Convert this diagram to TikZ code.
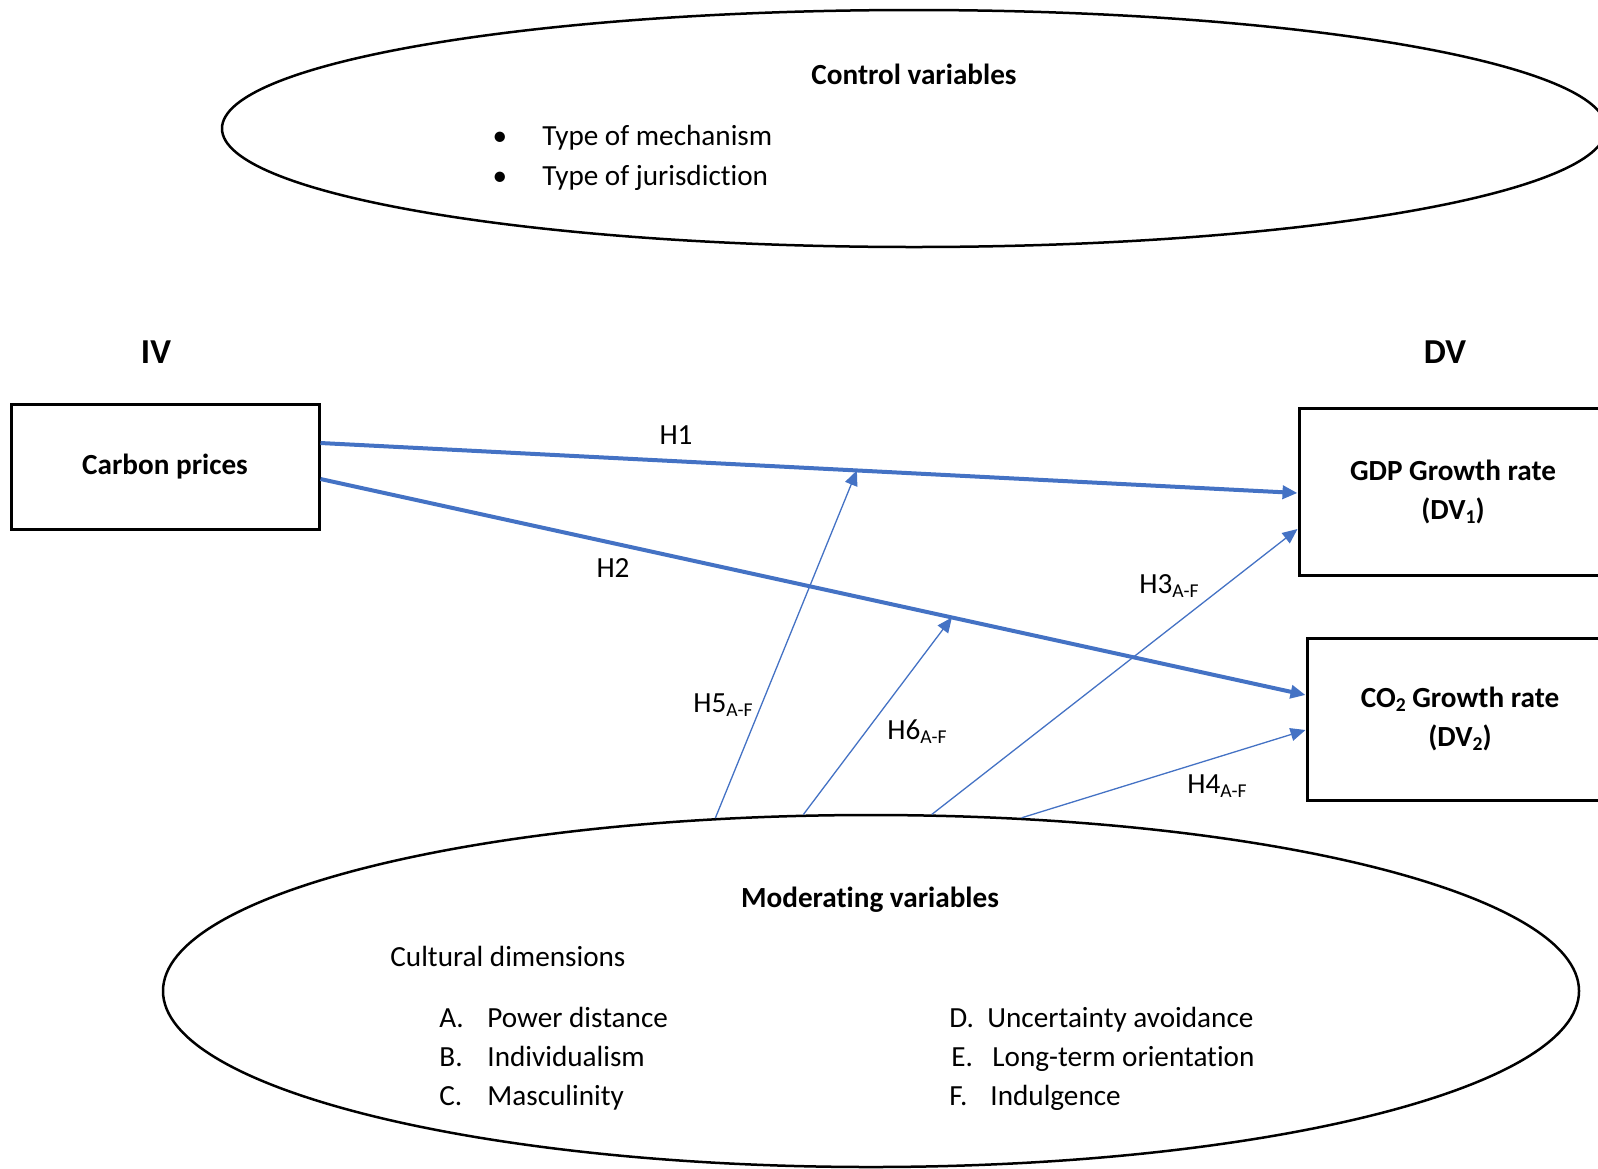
\documentclass[tikz,border=0pt]{standalone}
\usepackage{fontspec}
\setmainfont{Carlito}[Ligatures=NoCommon]
\usetikzlibrary{arrows.meta,calc,shapes.geometric}
\definecolor{hblue}{HTML}{4472C4}
\newcommand\lowsub[1]{\raisebox{-0.3ex}{\fontsize{9.8}{11}\selectfont #1}}
\begin{document}
\begin{tikzpicture}[x=0.5pt,y=-0.5pt,
  every node/.style={font=\fontsize{14.6}{19.5}\selectfont, inner sep=0pt},
  boxnode/.style={draw, line width=1.5pt, align=center, inner sep=0pt,
    font=\fontsize{14.6}{19.5}\selectfont\bfseries},
  oval/.style={draw, ellipse, line width=1.25pt, inner sep=0pt},
  mainarrow/.style={hblue, line width=2pt, -{Triangle[length=7.5pt,width=6.5pt]}},
  modarrow/.style={hblue, line width=0.65pt, -{Triangle[length=7.5pt,width=6.5pt]}},
  lbl/.style={anchor=base west},
  heading/.style={anchor=base, font=\fontsize{17.5}{20}\selectfont\bfseries},
  title/.style={anchor=base, font=\fontsize{14.6}{19.5}\selectfont\bfseries},
]
\useasboundingbox (0,0) rectangle (1598,1168);
\clip (0,0) rectangle (1598,1168);

% ellipses
\node[oval, minimum width=692pt, minimum height=118.5pt] (ctrl) at (914,128.5) {};
\node[oval, minimum width=708pt, minimum height=176pt] (mod) at (871,991) {};

% top ellipse text
\node[title] (ctrlt) at (914,84.5) {Control variables};
\node[anchor=base] (b1) at (500,145) {\textbullet};
\node[anchor=base] (b2) at (500,185.5) {\textbullet};
\node[lbl] (c1) at (542,145) {Type of mechanism};
\node[lbl] (c2) at (542,185.5) {Type of jurisdiction};

% headings
\node[heading] (iv) at (156,363.5) {IV};
\node[heading] (dv) at (1445,363.5) {DV};

% boxes
\node[boxnode, minimum width=154pt, minimum height=62.5pt] (cp) at (165,466.5) {Carbon prices};
\node[boxnode, minimum width=154pt, minimum height=83.5pt] (gdp) at (1453,491.5) {GDP Growth rate\\(DV\lowsub{1})};
\node[boxnode, minimum width=153pt, minimum height=81pt] (co2) at (1460,719) {CO\lowsub{2} Growth rate\\(DV\lowsub{2})};

% main arrows
\draw[mainarrow] ($(cp.east)+(0,-23.5)$) -- coordinate[pos=0.549] (h1m) ($(gdp.west)+(0,1.5)$);
\draw[mainarrow] ($(cp.east)+(0,12.5)$) -- coordinate[pos=0.641] (h2m) ($(co2.west)+(0,-24)$);

% moderating arrows
\draw[modarrow] (mod.132.3) -- (h1m);
\draw[modarrow] (mod.111.5) -- (h2m);
\draw[modarrow] (mod.71.1) -- ($(gdp.west)+(0,37.5)$);
\draw[modarrow] (mod.49.9) -- ($(co2.west)+(0,11)$);

% arrow labels
\node[anchor=base] (l1) at (676,444) {H1};
\node[anchor=base] (l2) at (613,577) {H2};
\node[lbl] (l3) at (1139,593) {H3\lowsub{A-F}};
\node[lbl] (l4) at (1187,793) {H4\lowsub{A-F}};
\node[lbl] (l5) at (693,712) {H5\lowsub{A-F}};
\node[lbl] (l6) at (887,739) {H6\lowsub{A-F}};

% bottom ellipse text
\node[title] (modt) at (870,907) {Moderating variables};
\node[lbl] (cd) at (390,966) {Cultural dimensions};
\node[lbl] (ka) at (439,1027) {A.};
\node[lbl] (ta) at (487,1027) {Power distance};
\node[lbl] (kb) at (439,1066) {B.};
\node[lbl] (tb) at (487,1066) {Individualism};
\node[lbl] (kc) at (439,1105) {C.};
\node[lbl] (tc) at (487,1105) {Masculinity};
\node[lbl] (kd) at (949,1027) {D.};
\node[lbl] (td) at (987,1027) {Uncertainty avoidance};
\node[lbl] (ke) at (951,1066) {E.};
\node[lbl] (te) at (992,1066) {Long-term orientation};
\node[lbl] (kf) at (949,1105) {F.};
\node[lbl] (tf) at (990,1105) {Indulgence};
\end{tikzpicture}
\end{document}
